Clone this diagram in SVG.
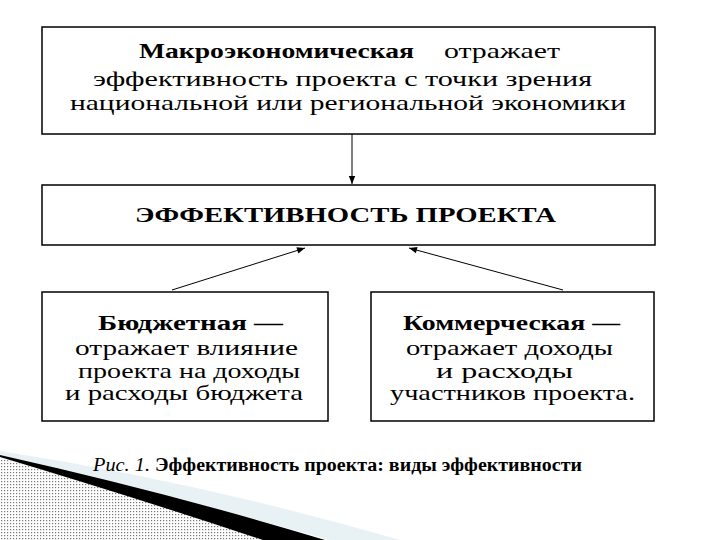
<svg xmlns="http://www.w3.org/2000/svg" width="720" height="540" viewBox="0 0 720 540">
<style>
.box{fill:#fff;stroke:#000;stroke-width:1.5}
.t{font-family:"Liberation Serif","Times New Roman",serif;font-size:21px;fill:#000}
.b{font-weight:bold}
.cap{font-family:"Liberation Serif","Times New Roman",serif;font-size:18px;fill:#000}
.conn{stroke:#000;stroke-width:1;fill:none}
</style>
<defs>
<marker id="ah" viewBox="0 0 10 10" refX="10" refY="5" markerWidth="10" markerHeight="8" markerUnits="userSpaceOnUse" orient="auto">
<path d="M0,1 L10,5 L0,9 Z" fill="#000"/>
</marker>
<pattern id="dots" width="3" height="3" patternUnits="userSpaceOnUse">
<rect width="3" height="3" fill="#fff"/>
<rect x="1" y="1" width="1.2" height="1.2" fill="#777"/>
</pattern>
</defs>
<rect width="720" height="540" fill="#fff"/>

<g id="decor">
<path d="M0,451 Q200,482 400,540 L330,540 Q160,492 0,455 Z" fill="#e8f2f5"/>
<path d="M0,458 Q140,497 263,540 L0,540 Z" fill="url(#dots)"/>
<path d="M0,455 Q170,493 325,540 L263,540 Q140,499 0,457 Z" fill="#000"/>
</g>

<g id="connectors">
<line class="conn" x1="352" y1="134" x2="352" y2="184" marker-end="url(#ah)"/>
<line class="conn" x1="172" y1="290" x2="305" y2="248" marker-end="url(#ah)"/>
<line class="conn" x1="563" y1="290" x2="409" y2="248" marker-end="url(#ah)"/>
</g>

<g id="macro">
<rect class="box" x="42" y="27" width="613" height="107"/>
<text class="t b" x="139" y="58" textLength="275" lengthAdjust="spacingAndGlyphs">Макроэкономическая</text>
<text class="t" x="444" y="58" textLength="116" lengthAdjust="spacingAndGlyphs">отражает</text>
<text class="t" x="93" y="86" textLength="499" lengthAdjust="spacingAndGlyphs">эффективность проекта с точки зрения</text>
<text class="t" x="70" y="110" textLength="556" lengthAdjust="spacingAndGlyphs">национальной или региональной экономики</text>
</g>

<g id="effect">
<rect class="box" x="42" y="185" width="613" height="60"/>
<text class="t b" x="135" y="222" textLength="421" lengthAdjust="spacingAndGlyphs">ЭФФЕКТИВНОСТЬ ПРОЕКТА</text>
</g>

<g id="budget">
<rect class="box" x="42" y="292" width="286" height="129"/>
<text class="t b" x="98" y="330" textLength="185" lengthAdjust="spacingAndGlyphs">Бюджетная —</text>
<text class="t" x="75" y="355" textLength="223" lengthAdjust="spacingAndGlyphs">отражает влияние</text>
<text class="t" x="78" y="378" textLength="222" lengthAdjust="spacingAndGlyphs">проекта на доходы</text>
<text class="t" x="65" y="400" textLength="238" lengthAdjust="spacingAndGlyphs">и расходы бюджета</text>
</g>

<g id="commercial">
<rect class="box" x="371" y="292" width="283" height="129"/>
<text class="t b" x="403" y="330" textLength="217" lengthAdjust="spacingAndGlyphs">Коммерческая —</text>
<text class="t" x="406" y="355" textLength="207" lengthAdjust="spacingAndGlyphs">отражает доходы</text>
<text class="t" x="436" y="378" textLength="137" lengthAdjust="spacingAndGlyphs">и расходы</text>
<text class="t" x="390" y="400" textLength="245" lengthAdjust="spacingAndGlyphs">участников проекта.</text>
</g>

<g id="caption">
<text class="cap" x="93" y="471" font-style="italic" textLength="57" lengthAdjust="spacingAndGlyphs">Рис. 1.</text>
<text class="cap b" x="155" y="471" textLength="427" lengthAdjust="spacingAndGlyphs">Эффективность проекта: виды эффективности</text>
</g>
</svg>
